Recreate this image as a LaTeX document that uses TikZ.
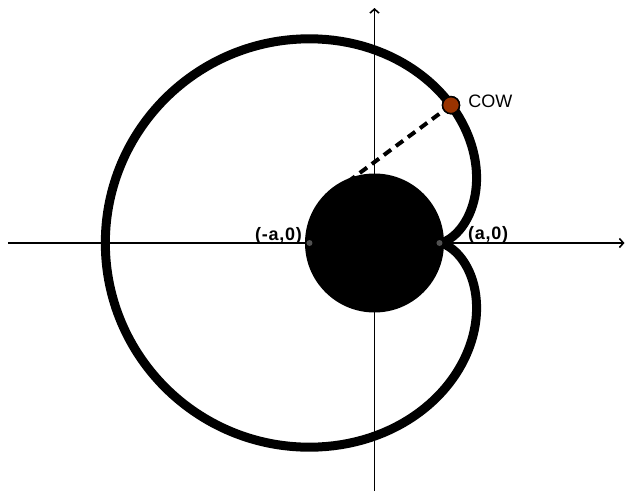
\documentclass[tikz,border=0pt]{standalone}
\usepackage{fontspec}
\setmainfont{Liberation Sans}
\usepackage{xcolor}
\usepackage{tikz}
\usetikzlibrary{arrows.meta,positioning,calc}

\definecolor{cowbrown}{RGB}{153,51,0}
\definecolor{dotgray}{RGB}{80,80,80}

\begin{document}
\begin{tikzpicture}[
  x=1pt,y=1pt,
  axis/.style={line width=1.6pt,-{Straight Barb[length=4pt,width=9pt,line width=1.6pt]}},
  rope/.style={line width=9pt,line join=round},
  leash/.style={line width=4pt,dash pattern=on 9pt off 6pt},
  silo/.style={circle,fill=black,minimum size=139pt,inner sep=0pt},
  pt/.style={circle,fill=dotgray,minimum size=6pt,inner sep=0pt},
  cowdot/.style={circle,draw=black,line width=1.5pt,fill=cowbrown,minimum size=17pt,inner sep=0pt},
  cowlbl/.style={font=\fontsize{18}{20}\selectfont,inner sep=0pt},
  albl/.style={font=\fontsize{18}{20}\selectfont\bfseries\addfontfeature{LetterSpace=4},inner sep=0pt}
]
\useasboundingbox (-374.5,-248) rectangle (250.5,243);

% Axes
\coordinate (xl) at (-366.5,0);
\coordinate (xr) at (250,0);
\coordinate (yb) at (0,-248);
\coordinate (yt) at (0,235);
\draw[axis] (xl) -- (xr);
\draw[axis] (yb) -- (yt);

% Rope from tangent point to cow
\coordinate (tan) at ({65*cos(2.21 r)},{65*sin(2.21 r)});
\node[cowdot] (cow) at ({65*(cos(2.21 r)+2.21*sin(2.21 r))},{65*(sin(2.21 r)-2.21*cos(2.21 r))}) {};
\draw[leash] (tan) -- (cow.center);

% Grazing boundary
\draw[rope] plot[domain=0:3.14159,samples=80,variable=\t]
    ({65*(cos(\t r)+\t*sin(\t r))},{65*(sin(\t r)-\t*cos(\t r))})
  arc[start angle=90,end angle=270,radius={65*3.14159}]
  -- plot[domain=3.14159:0,samples=80,variable=\t]
    ({65*(cos(\t r)+\t*sin(\t r))},{-65*(sin(\t r)-\t*cos(\t r))});

% Silo
\node[silo] (silo) at (0,0) {};
\node[pt] (am) at (-65,0) {};
\node[pt] (ap) at (65,0) {};
\node[albl,anchor=base east] (amlbl) at ([xshift=-7.5pt,yshift=3pt]am.center) {(-a,0)};
\node[albl,anchor=base west] (aplbl) at ([xshift=28.5pt,yshift=4pt]ap.center) {(a,0)};

% Cow
\node[cowdot] at (cow) {};
\node[cowlbl,anchor=base west] (cowlbl) at ([xshift=8pt,yshift=-2pt]cow.east) {COW};
\end{tikzpicture}
\end{document}
